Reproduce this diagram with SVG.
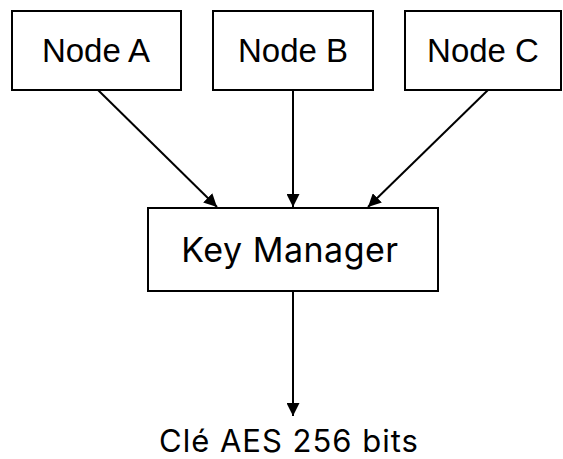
<svg xmlns="http://www.w3.org/2000/svg" width="563" height="459" viewBox="0 0 563 459">
  <defs>
    <style>
      .box { fill: #ffffff; stroke: #000000; stroke-width: 2; }
      .src { font-family: "Liberation Sans", Arial, sans-serif; font-size: 33px; fill: #000000; text-anchor: middle; }
      .lbl { font-family: Inter, "Noto Sans", sans-serif; fill: #000000; text-anchor: middle; }
      .edge { stroke: #000000; stroke-width: 2; fill: none; marker-end: url(#arrow); }
    </style>
    <marker id="arrow" viewBox="0 0 10 10" refX="10" refY="5" markerWidth="6.5" markerHeight="6.5" markerUnits="strokeWidth" orient="auto">
      <path d="M0,0 L10,5 L0,10 z" fill="#000000"/>
    </marker>
  </defs>
  <rect width="563" height="459" fill="#ffffff"/>

  <g id="node-a">
    <rect class="box" x="12" y="11" width="169" height="79"/>
    <text class="src" x="96" y="62">Node A</text>
  </g>
  <g id="node-b">
    <rect class="box" x="213" y="11" width="160" height="79"/>
    <text class="src" x="293" y="62">Node B</text>
  </g>
  <g id="node-c">
    <rect class="box" x="405" y="11" width="156" height="79"/>
    <text class="src" x="483" y="62">Node C</text>
  </g>
  <g id="key-manager">
    <rect class="box" x="148" y="208" width="290" height="83"/>
    <text class="lbl" x="290" y="262" font-size="34" letter-spacing="0.5">Key Manager</text>
  </g>
  <g id="output-key">
    <text class="lbl" x="289" y="452" font-size="31" letter-spacing="1">Clé AES 256 bits</text>
  </g>

  <g id="connectors">
    <line class="edge" x1="98" y1="90" x2="217" y2="207"/>
    <line class="edge" x1="293" y1="90" x2="293" y2="207"/>
    <line class="edge" x1="488" y1="90" x2="368" y2="207"/>
    <line class="edge" x1="293" y1="291" x2="293" y2="416"/>
  </g>
</svg>
